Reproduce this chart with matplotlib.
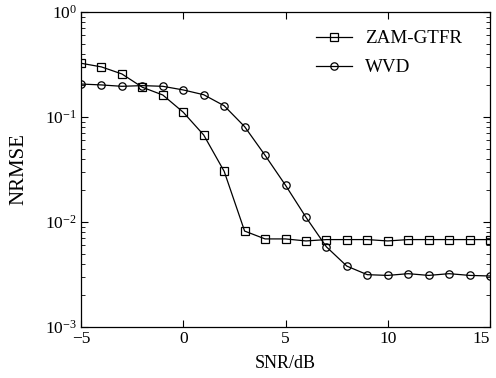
import matplotlib
matplotlib.use("Agg")
import matplotlib.pyplot as plt
from matplotlib.ticker import LogLocator, NullFormatter

plt.rcParams['font.family'] = ['Liberation Serif', 'DejaVu Serif']
plt.rcParams['mathtext.fontset'] = 'stix'

snr = list(range(-5, 16))
zam_gtfr = [0.325, 0.30, 0.257, 0.192, 0.162, 0.111, 0.0674, 0.0304, 0.0082, 0.0069,
            0.0069, 0.0066, 0.0068, 0.0068, 0.0068, 0.0066, 0.0068, 0.0068, 0.0068, 0.0068, 0.0068]
wvd = [0.206, 0.202, 0.196, 0.199, 0.196, 0.181, 0.163, 0.128, 0.081, 0.0432,
       0.0224, 0.0111, 0.0058, 0.0038, 0.00315, 0.0031, 0.00322, 0.0031, 0.00322, 0.0031, 0.00306]
x_ticks = [-5, 0, 5, 10, 15]

fig = plt.figure(figsize=(4.96, 3.78), dpi=100)
ax = fig.add_axes([81/496, 51/378, 409/496, 315/378])

ax.plot(snr, zam_gtfr, color='black', lw=0.9, marker='s', markersize=5.3,
        markerfacecolor='none', markeredgewidth=0.9, label='ZAM-GTFR')
ax.plot(snr, wvd, color='black', lw=0.9, marker='o', markersize=5.3,
        markerfacecolor='none', markeredgewidth=0.9, label='WVD')

ax.set_yscale('log')
ax.set_xlim(-5, 15)
ax.set_ylim(1e-3, 1e0)
ax.set_xticks(x_ticks)
ax.yaxis.set_major_locator(LogLocator(base=10, numticks=10))
ax.yaxis.set_minor_locator(LogLocator(base=10, subs=range(2, 10), numticks=10))
ax.yaxis.set_minor_formatter(NullFormatter())

ax.tick_params(which='both', direction='in', top=True, right=True, labelsize=12.5)
ax.tick_params(which='major', length=5, width=0.8, pad=3)
ax.tick_params(which='minor', length=3, width=0.6)
for s in ax.spines.values():
    s.set_linewidth(0.9)

fig.canvas.draw()
xlabels = ax.get_xticklabels()
xlabels[-1].set_horizontalalignment('right')

ax.set_xlabel('SNR/dB', fontsize=13, va='top')
ax.xaxis.set_label_coords(0.5, (327 - 355) / 315)
ax.set_ylabel('NRMSE', fontsize=15)
ax.yaxis.set_label_coords((28 - 81) / 409, 0.5)

ax.legend(loc='upper right', frameon=False, fontsize=13.7, handlelength=1.85,
          handletextpad=0.7, borderpad=0, borderaxespad=0,
          bbox_to_anchor=((462 - 81) / 409, (327 - 30) / 315), labelspacing=0.62)

fig.savefig('out.png', dpi=100)
